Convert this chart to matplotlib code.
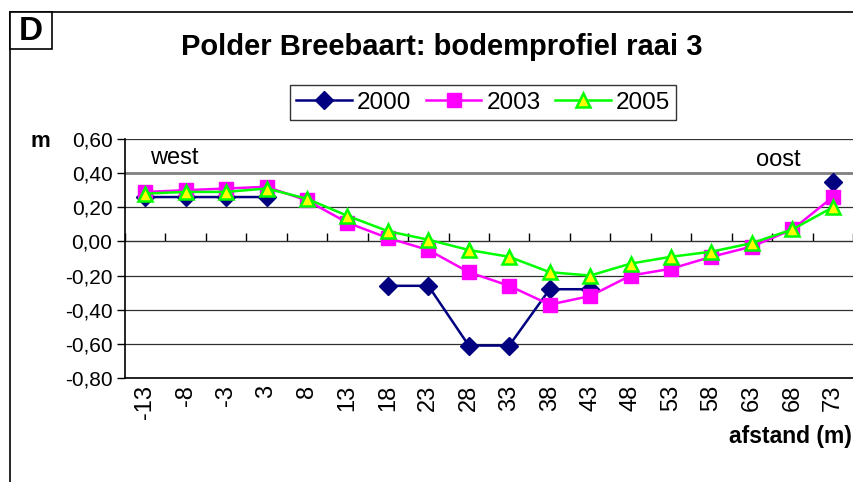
import numpy as np
import matplotlib
matplotlib.use("Agg")
import matplotlib.pyplot as plt
from matplotlib.patches import Rectangle

plt.rcParams['font.family'] = ['Liberation Sans', 'DejaVu Sans']

# afstand (m) langs raai 3
afstand = ['-13', '-8', '-3', '3', '8', '13', '18', '23', '28', '33',
           '38', '43', '48', '53', '58', '63', '68', '73']
nan = np.nan
h2000 = [0.26, 0.26, 0.26, 0.26, nan, nan, -0.26, -0.26, -0.61, -0.61,
         -0.28, -0.28, nan, nan, nan, nan, nan, 0.35]
h2003 = [0.29, 0.30, 0.31, 0.32, 0.24, 0.11, 0.02, -0.05, -0.18, -0.26,
         -0.37, -0.32, -0.20, -0.16, -0.09, -0.03, 0.07, 0.26]
h2005 = [0.28, 0.29, 0.29, 0.31, 0.25, 0.15, 0.06, 0.01, -0.05, -0.09,
         -0.18, -0.20, -0.13, -0.09, -0.06, -0.01, 0.07, 0.20]
yticks = [-0.8, -0.6, -0.4, -0.2, 0.0, 0.2, 0.4, 0.6]

W, H = 854, 482
def fx(px):
    return px / W
def fy(py):
    return 1 - py / H

fig = plt.figure(figsize=(W / 100, H / 100), dpi=100)
ax = fig.add_axes([fx(125), fy(378), fx(853) - fx(125), fy(139) - fy(378)])

x = np.arange(len(afstand))
ax.plot(x, h2000, color='#000080', lw=1.8, marker='D', ms=9,
        mfc='#000080', mec='#000080', label='2000', zorder=3)
ax.plot(x, h2003, color='#FF00FF', lw=1.8, marker='s', ms=10,
        mfc='#FF00FF', mec='#FF00FF', label='2003', zorder=4)
ax.plot(x, h2005, color='#00FF00', lw=1.8, marker='^', ms=10,
        mfc='#FFFF00', mec='#00FF00', mew=1.8, label='2005', zorder=5)

ax.set_xlim(-0.5, len(afstand) - 0.5)
ax.set_ylim(-0.8, 0.6)

# y-as
ax.set_yticks(yticks)
ax.set_yticklabels([f"{v:.2f}".replace('.', ',') for v in yticks])
ax.tick_params(axis='y', direction='out', length=6, width=1, labelsize=15, pad=3)
ax.yaxis.grid(True, color='#303030', lw=0.9)
ax.set_axisbelow(True)
# lijn op 0,40 is in het origineel grijs en dikker
gl = ax.get_ygridlines()[yticks.index(0.4)]
gl.set_color('#808080')
gl.set_linewidth(2.0)

# x-as labels onderaan
ax.set_xticks(x)
ax.set_xticklabels(afstand, rotation=90)
ax.tick_params(axis='x', length=0, labelsize=17, pad=5)

for s in ['top', 'right']:
    ax.spines[s].set_visible(False)
ax.spines['left'].set_linewidth(1.2)
ax.spines['bottom'].set_linewidth(1.2)

# x-as lijn met streepjes op nul
sec = ax.secondary_xaxis(0.8 / 1.4)
sec.set_xticks(np.arange(len(afstand) + 1) - 0.5)
sec.set_xticklabels([])
sec.tick_params(direction='out', length=6, width=1)
sec.spines['bottom'].set_linewidth(1.2)

# buitenkader en letter D
fig.patches.append(Rectangle((fx(10), -0.1), 2, fy(12) + 0.1, transform=fig.transFigure,
                             fill=False, ec='black', lw=1.2))
fig.patches.append(Rectangle((fx(10), fy(49)), fx(52) - fx(10), fy(12) - fy(49),
                             transform=fig.transFigure, fc='white', ec='black', lw=1.2))
fig.text(fx(31), fy(31), 'D', fontsize=24, fontweight='bold', ha='center', va='center')

fig.text(fx(442), fy(47), 'Polder Breebaart: bodemprofiel raai 3',
         fontsize=21, fontweight='bold', ha='center', va='center')

leg = fig.legend(loc='center', bbox_to_anchor=(fx(483), fy(102.5)), ncol=3,
                 fontsize=17.5, frameon=True, fancybox=False, handlelength=2.3,
                 handletextpad=0.2, columnspacing=0.6, borderpad=0.25)
leg.get_frame().set_edgecolor('black')
leg.get_frame().set_linewidth(1.0)

fig.text(fx(40), fy(141), 'm', fontsize=16, fontweight='bold', ha='center', va='center')
fig.text(fx(174), fy(158), 'west', fontsize=17, ha='center', va='center')
fig.text(fx(778), fy(160), 'oost', fontsize=17, ha='center', va='center')
fig.text(fx(852), fy(436), 'afstand (m)', fontsize=16.5, fontweight='bold',
         ha='right', va='center')

fig.savefig('out.png', dpi=100)
